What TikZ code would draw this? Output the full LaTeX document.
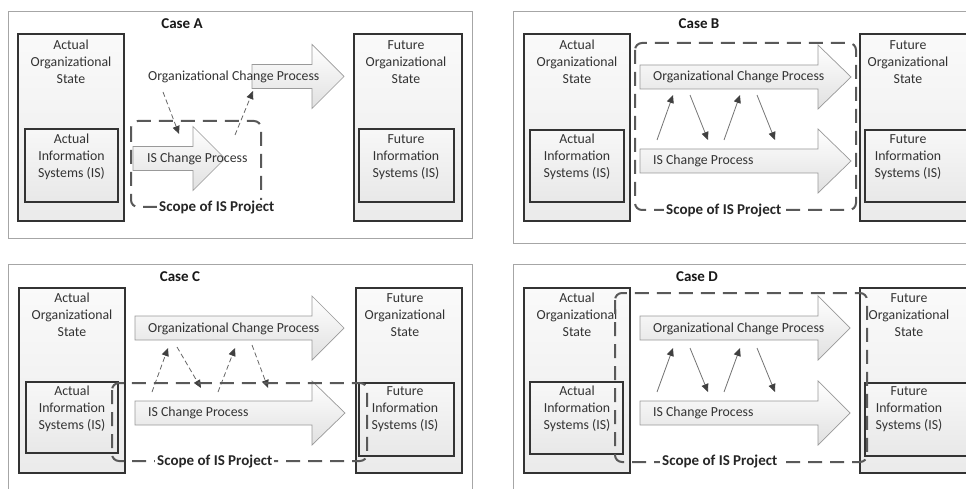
\documentclass[tikz,border=0pt]{standalone}
\usepackage{fontspec}
\setmainfont{Carlito}
\usetikzlibrary{arrows.meta}
\newcommand\fatarrow[4]{% left x, head base x, tip x, mid y
  \draw[bigarrow] ({#1},{#4-12}) -- ({#2},{#4-12}) -- ({#2},{#4-32}) -- ({#3},{#4})
    -- ({#2},{#4+32}) -- ({#2},{#4+12}) -- ({#1},{#4+12}) -- cycle;}
\begin{document}
\begin{tikzpicture}[x=1pt,y=-1pt,
  frame/.style={draw=black!35, line width=1pt, fill=white},
  obox/.style={draw=black!80, line width=1.4pt, top color=black!2, bottom color=black!8, inner sep=0pt},
  ibox/.style={draw=black!80, line width=1.4pt, top color=black!3, bottom color=black!9, inner sep=0pt},
  tbox/.style={ibox, line width=2pt},
  btext/.style={align=center, text=black!80, inner sep=0pt, font=\fontsize{13.8}{17}\selectfont},
  atext/.style={anchor=west, text=black!80, inner sep=0pt, font=\fontsize{13.8}{17}\selectfont},
  title/.style={font=\bfseries\fontsize{15}{18}\selectfont, text=black!90, inner sep=0pt},
  bigarrow/.style={draw=black!40, line width=0.7pt, top color=white, bottom color=black!12},
  scopebox/.style={draw=black!65, line width=2pt, dash pattern=on 14pt off 8pt, rounded corners=7pt},
  scopelabel/.style={anchor=west, fill=white, inner xsep=2pt, inner ysep=1pt, text=black!85,
    font=\bfseries\fontsize{15}{18}\selectfont},
  dasharr/.style={draw=black!60, line width=0.8pt, dash pattern=on 5pt off 3pt,
    -{Triangle[length=8pt,width=7pt,color=black!75,fill=black!75]}},
  solarr/.style={draw=black!55, line width=0.8pt, -{Triangle[length=8pt,width=7pt,color=black!75,fill=black!75]}}
]
\useasboundingbox (0,0) rectangle (966,489);
\clip (0,0) rectangle (966,489);

% ================= Case A =================
\draw[frame] (8,12) rectangle (472,238);
\node[title] (tA) at (182,24) {Case A};
\node[obox, minimum width=106pt, minimum height=187pt] (AL) at (71,127.5) {};
\node[ibox, minimum width=93pt, minimum height=73pt] (ALi) at (71.5,165.5) {};
\node[btext] (ALt) at (71,62) {Actual\\Organizational\\State};
\node[btext] (ALit) at (71.5,157) {Actual\\Information\\Systems (IS)};
\node[obox, minimum width=108pt, minimum height=187pt] (AR) at (408,127.5) {};
\node[ibox, minimum width=95pt, minimum height=73pt] (ARi) at (406.5,165.5) {};
\node[btext] (ARt) at (406,62) {Future\\Organizational\\State};
\node[btext] (ARit) at (406,157) {Future\\Information\\Systems (IS)};
\fatarrow{252}{312}{344}{76.5}
\fatarrow{133}{193}{225}{158.5}
\node[atext] (oA) at (148,77) {Organizational Change Process};
\node[atext] (iA) at (147,159) {IS Change Process};
\coordinate (a1) at (163,92); \coordinate (a2) at (179,134);
\coordinate (a3) at (235,135); \coordinate (a4) at (253,91);
\draw[dasharr] (a1) -- (a2);
\draw[dasharr] (a3) -- (a4);
\draw[scopebox] (131,121) rectangle (261,207);
\node[scopelabel] (sA) at (157,208) {Scope of IS Project};

% ================= Case B =================
\draw[frame] (513,12) rectangle (985,243);
\node[title] (tB) at (699,24) {Case B};
\node[obox, minimum width=106pt, minimum height=187pt] (BL) at (577,127.5) {};
\node[ibox, minimum width=94pt, minimum height=72pt] (BLi) at (577,166) {};
\node[btext] (BLt) at (577,62) {Actual\\Organizational\\State};
\node[btext] (BLit) at (577,157) {Actual\\Information\\Systems (IS)};
\node[obox, minimum width=112pt, minimum height=187pt] (BR) at (916,127.5) {};
\node[tbox, minimum width=102pt, minimum height=72pt] (BRi) at (916,166) {};
\node[btext] (BRt) at (908,62) {Future\\Organizational\\State};
\node[btext] (BRit) at (908,157) {Future\\Information\\Systems (IS)};
\fatarrow{640}{818}{851}{77}
\fatarrow{640}{818}{851}{161}
\node[atext] (oB) at (653,77) {Organizational Change Process};
\node[atext] (iB) at (653,161) {IS Change Process};
\coordinate (b1) at (657,140); \coordinate (b2) at (673,95);
\coordinate (b3) at (690,95);  \coordinate (b4) at (708,140);
\coordinate (b5) at (724,140); \coordinate (b6) at (740,95);
\coordinate (b7) at (757,95);  \coordinate (b8) at (775,140);
\draw[solarr] (b1) -- (b2);
\draw[solarr] (b3) -- (b4);
\draw[solarr] (b5) -- (b6);
\draw[solarr] (b7) -- (b8);
\draw[scopebox] (635,43) rectangle (856,210);
\node[scopelabel] (sB) at (664,211) {Scope of IS Project};

% ================= Case C =================
\draw[frame] (8,264) rectangle (472,505);
\node[title] (tC) at (180,277) {Case C};
\node[obox, minimum width=106pt, minimum height=185pt] (CL) at (72,380.5) {};
\node[ibox, minimum width=92pt, minimum height=71pt] (CLi) at (72,417.5) {};
\node[btext] (CLt) at (72,315) {Actual\\Organizational\\State};
\node[btext] (CLit) at (72,409) {Actual\\Information\\Systems (IS)};
\node[obox, minimum width=106pt, minimum height=185pt] (CR) at (409,380.5) {};
\node[tbox, minimum width=95pt, minimum height=73pt] (CRi) at (406.5,419.5) {};
\node[btext] (CRt) at (405,315) {Future\\Organizational\\State};
\node[btext] (CRit) at (405,409) {Future\\Information\\Systems (IS)};
\fatarrow{135}{312}{344}{328}
\fatarrow{135}{312}{345}{413}
\node[atext] (oC) at (148,329) {Organizational Change Process};
\node[atext] (iC) at (148,413) {IS Change Process};
\coordinate (c1) at (152,392); \coordinate (c2) at (168,348);
\coordinate (c3) at (177,347); \coordinate (c4) at (201,388);
\coordinate (c5) at (218,392); \coordinate (c6) at (235,348);
\coordinate (c7) at (252,345); \coordinate (c8) at (268,388);
\draw[dasharr] (c1) -- (c2);
\draw[dasharr] (c3) -- (c4);
\draw[dasharr] (c5) -- (c6);
\draw[dasharr] (c7) -- (c8);
\draw[scopebox] (112,383) rectangle (367,461);
\node[scopelabel] (sC) at (155,462) {Scope of IS Project};

% ================= Case D =================
\draw[frame] (513,264) rectangle (985,505);
\node[title] (tD) at (697,277) {Case D};
\node[obox, minimum width=106pt, minimum height=185pt] (DL) at (577,380.5) {};
\node[ibox, minimum width=93pt, minimum height=72pt] (DLi) at (576.5,418) {};
\node[btext] (DLt) at (577,315) {Actual\\Organizational\\State};
\node[btext] (DLit) at (577,409) {Actual\\Information\\Systems (IS)};
\node[obox, minimum width=112pt, minimum height=185pt] (DR) at (916,380.5) {};
\node[tbox, minimum width=102pt, minimum height=73pt] (DRi) at (916,419.5) {};
\node[btext] (DRt) at (909,315) {Future\\Organizational\\State};
\node[btext] (DRit) at (909,409) {Future\\Information\\Systems (IS)};
\fatarrow{640}{818}{850}{328}
\fatarrow{640}{818}{850}{413}
\node[atext] (oD) at (653,329) {Organizational Change Process};
\node[atext] (iD) at (653,413) {IS Change Process};
\coordinate (d1) at (657,392); \coordinate (d2) at (673,348);
\coordinate (d3) at (690,348); \coordinate (d4) at (708,392);
\coordinate (d5) at (724,392); \coordinate (d6) at (740,348);
\coordinate (d7) at (757,348); \coordinate (d8) at (775,392);
\draw[solarr] (d1) -- (d2);
\draw[solarr] (d3) -- (d4);
\draw[solarr] (d5) -- (d6);
\draw[solarr] (d7) -- (d8);
\draw[scopebox] (615,293) rectangle (867,462);
\node[scopelabel] (sD) at (660,462) {Scope of IS Project};
\end{tikzpicture}
\end{document}
